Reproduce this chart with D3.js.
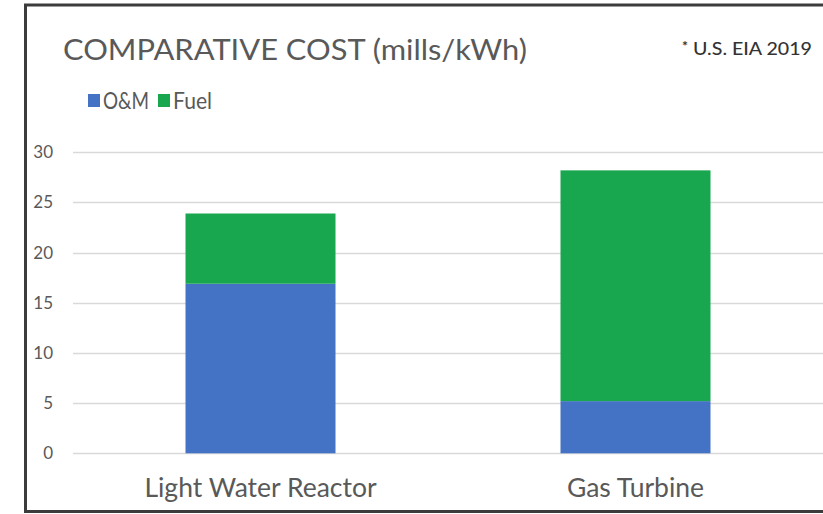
<!DOCTYPE html>
<html>
<head>
<meta charset="utf-8">
<script src="https://cdn.jsdelivr.net/npm/d3@7/dist/d3.min.js"></script>
<style>
  html, body { margin: 0; padding: 0; background: #ffffff; }
  svg { display: block; }
  text { font-family: Lato, "Open Sans", sans-serif; }
</style>
</head>
<body>
<svg id="chart" width="823" height="514"></svg>
<script>
// Comparative generation cost, mills/kWh
const categories = ["Light Water Reactor", "Gas Turbine"];
const seriesNames = ["O&M", "Fuel"];
const omValues = [16.9, 5.2];
const fuelValues = [7.0, 23.0];
const yTicks = [0, 5, 10, 15, 20, 25, 30];
const seriesColors = ["#4472c4", "#18a74e"];

const W = 823, H = 514;
const svg = d3.select("#chart");

// panel frame (left, top and bottom edges)
svg.append("path")
  .attr("d", `M${W},5 H25.5 V511.5 H${W}`)
  .attr("fill", "none")
  .attr("stroke", "#3c3c3c")
  .attr("stroke-width", 3);

const x = d3.scaleBand()
  .domain(categories)
  .range([73, W])
  .paddingInner(0.6)
  .paddingOuter(0.3);

const y = d3.scaleLinear()
  .domain([0, 30])
  .range([453.3, 152.3]);

// gridlines
svg.append("g")
  .selectAll("line")
  .data(yTicks)
  .join("line")
  .attr("x1", 73)
  .attr("x2", W)
  .attr("y1", d => Math.round(y(d)) + 0.5)
  .attr("y2", d => Math.round(y(d)) + 0.5)
  .attr("stroke", "#d9d9d9")
  .attr("stroke-width", 1.5);

// y axis labels
const yAxis = d3.axisLeft(y).tickValues(yTicks).tickSize(0).tickPadding(0);
const yg = svg.append("g").attr("transform", "translate(53,0)").call(yAxis);
yg.select(".domain").remove();
yg.selectAll("text")
  .attr("fill", "#595959")
  .style("font-size", "17px")
  .style("font-family", "Lato, sans-serif");

// stacked bars
const rows = categories.map((c, i) => ({ cat: c, "O&M": omValues[i], "Fuel": fuelValues[i] }));
const stack = d3.stack().keys(seriesNames)(rows);

svg.append("g")
  .selectAll("g")
  .data(stack)
  .join("g")
  .attr("fill", (d, i) => seriesColors[i])
  .selectAll("rect")
  .data(d => d)
  .join("rect")
  .attr("x", d => x(d.data.cat))
  .attr("width", x.bandwidth())
  .attr("y", d => y(d[1]))
  .attr("height", d => y(d[0]) - y(d[1]));

// category labels
const xAxis = d3.axisBottom(x).tickSize(0).tickPadding(0);
const xg = svg.append("g").attr("transform", "translate(0,478)").call(xAxis);
xg.select(".domain").remove();
xg.selectAll("text")
  .attr("fill", "#595959")
  .attr("dy", "0.71em")
  .style("font-size", "26.5px")
  .style("font-family", "Lato, sans-serif");

// title
svg.append("text")
  .attr("x", 63)
  .attr("y", 60)
  .attr("fill", "#595959")
  .style("font-size", "29px")
  .attr("textLength", 464)
  .attr("lengthAdjust", "spacingAndGlyphs")
  .text("COMPARATIVE COST (mills/kWh)");

// source note
svg.append("text")
  .attr("x", 682)
  .attr("y", 51)
  .attr("fill", "#333333")
  .style("font-size", "14px")
  .style("font-weight", "700")
  .text("*");
svg.append("text")
  .attr("x", 693)
  .attr("y", 55)
  .attr("fill", "#333333")
  .style("font-size", "16.5px")
  .style("font-weight", "500")
  .attr("textLength", 119)
  .attr("lengthAdjust", "spacingAndGlyphs")
  .text("U.S. EIA 2019");

// legend
const legendX = [88, 158];
const legendTextLen = [46, 39];
const legend = svg.append("g")
  .selectAll("g")
  .data(seriesNames)
  .join("g")
  .attr("transform", (d, i) => `translate(${legendX[i]},0)`);
legend.append("rect")
  .attr("x", 0).attr("y", 94)
  .attr("width", 12).attr("height", 13)
  .attr("fill", (d, i) => seriesColors[i]);
legend.append("text")
  .attr("x", 15)
  .attr("y", 109)
  .attr("fill", "#595959")
  .style("font-size", "23px")
  .attr("textLength", (d, i) => legendTextLen[i])
  .attr("lengthAdjust", "spacingAndGlyphs")
  .text(d => d);
</script>
</body>
</html>
